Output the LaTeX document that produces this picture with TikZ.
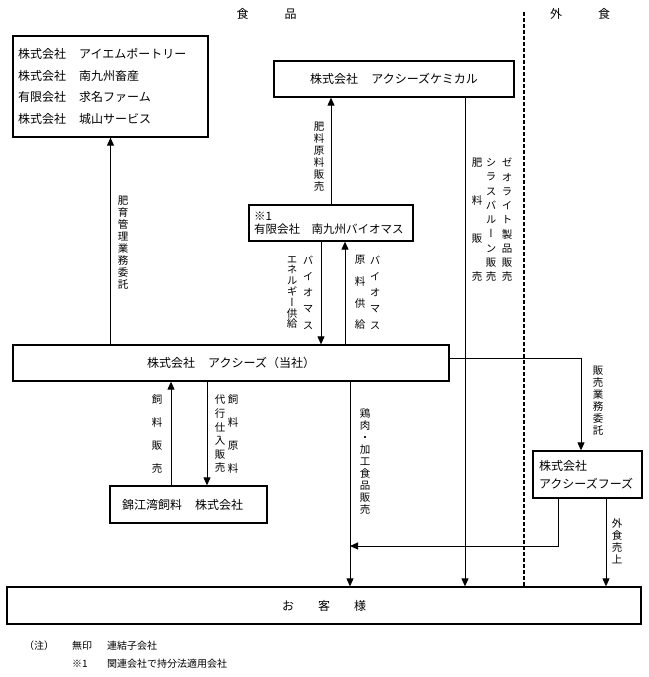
\documentclass[tikz,border=0pt]{standalone}
\usepackage{fontspec}
\setmainfont{Noto Sans CJK JP}
\newfontfamily\tatefont[RawFeature=+vert]{Noto Sans CJK JP}
\usetikzlibrary{arrows.meta}

\tikzset{
  box/.style={draw, line width=1.3pt, inner sep=0pt, font=\fontsize{12}{14}\selectfont},
  tate/.style={align=center, inner sep=0pt, font=\tatefont\fontsize{10.5}{#1}\selectfont},
  tate/.default=12,
  note/.style={inner sep=0pt, font=\fontsize{10}{12}\selectfont},
  arr/.style={line width=1pt, -{Triangle[length=8pt,width=7pt]}},
  border line/.style={line width=1.4pt, dash pattern=on 4pt off 2pt},
}

\begin{document}
\begin{tikzpicture}[x=1pt, y=-1pt]
  \useasboundingbox (0,0) rectangle (648,677);

  % headings
  \node[font=\fontsize{12}{14}\selectfont] (shokuhin) at (266.5,14) {食\hspace{3em}品};
  \node[font=\fontsize{12}{14}\selectfont] (gaishoku) at (580,14) {外\hspace{3em}食};

  % companies
  \node[box, minimum height=101pt, text width=185pt, inner xsep=5pt, align=left,
        font=\fontsize{12}{21.5}\selectfont] (farm) at (110.5,86.5)
    {株式会社\hspace{1.1em}アイエムポートリー\\株式会社\hspace{1.1em}南九州畜産\\有限会社\hspace{1.1em}求名ファーム\\株式会社\hspace{1.1em}城山サービス};
  \node[box, minimum width=240pt, minimum height=36pt] (chem) at (394,79) {株式会社\hspace{1.1em}アクシーズケミカル};
  \node[box, minimum height=36pt, text width=154pt, inner xsep=5pt, align=left,
        font=\fontsize{11.5}{13.5}\selectfont] (bio) at (331,223) {※1\\有限会社\hspace{1em}南九州バイオマス};
  \node[box, minimum width=436pt, minimum height=36pt] (main) at (231,363) {株式会社\hspace{1.1em}アクシーズ（当社）};
  \node[box, minimum height=37pt, text width=133pt, inner xsep=12pt, align=left] (nishi) at (188.5,504.5) {錦江湾飼料\hspace{1.1em}株式会社};
  \node[box, minimum height=47pt, text width=97pt, inner xsep=6pt, align=left,
        font=\fontsize{12}{18}\selectfont] (foods) at (587.5,474.5) {株式会社\\アクシーズフーズ};
  \node[box, minimum width=634pt, minimum height=37pt] (cust) at (324,605.5) {お\hspace{2em}客\hspace{2em}様};

  % flows
  \draw[arr] (farm.south |- main.north) -- (farm.south);
  \draw[arr] (bio.north) -- (bio.north |- chem.south);
  \draw[arr] (bio.south -| 321,0) -- (main.north -| 321,0);
  \draw[arr] (main.north -| 345,0) -- (bio.south -| 345,0);
  \draw[arr] (chem.south -| 465,0) -- (cust.north -| 465,0);
  \draw[arr] (main.east |- 0,358) -| (foods.north -| 581,0);
  \draw[arr] (main.south -| 350,0) -- (cust.north -| 350,0);
  \coordinate (merge) at (350,546);
  \draw[arr] (foods.south -| 558,0) |- (merge);
  \draw[arr] (foods.south -| 606,0) -- (cust.north -| 606,0);
  \draw[arr] (nishi.north -| 171,0) -- (main.south -| 171,0);
  \draw[arr] (main.south -| 207,0) -- (nishi.north -| 207,0);
  \draw[border line] (524,12) -- (cust.north -| 524,0);

  % flow labels
  \node[tate] (ikusei) at (123,242.5) {肥\\育\\管\\理\\業\\務\\委\\託};
  \node[tate] (hiryo) at (319,156.5) {肥\\料\\原\\料\\販\\売};
  \node[tate=10.8] (eneA) at (292,292.5) {エ\\ネ\\ル\\ギ\\ー\\供\\給};
  \node[tate=16.25] (eneB) at (308,292.5) {バ\\イ\\オ\\マ\\ス};
  \node[tate=21.7] (genA) at (360,292.5) {原\\料\\供\\給};
  \node[tate=16.25] (genB) at (375,292.5) {バ\\イ\\オ\\マ\\ス};
  \node[tate=38] (kemiA) at (477,220) {肥\\料\\販\\売};
  \node[tate=14.25] (kemiB) at (491,220) {シ\\ラ\\ス\\バ\\ル\\ー\\ン\\販\\売};
  \node[tate=14.25] (kemiC) at (507,220) {ゼ\\オ\\ラ\\イ\\ト\\製\\品\\販\\売};
  \node[tate] (hanbai) at (598,401) {販\\売\\業\\務\\委\\託};
  \node[tate] (tori) at (365,461.5) {鶏\\肉\\・\\加\\工\\食\\品\\販\\売};
  \node[tate] (gai) at (617,541) {外\\食\\売\\上};
  \node[tate=22.7] (siryoA) at (157,434) {飼\\料\\販\\売};
  \node[tate=13.6] (siryoB) at (220,434) {代\\行\\仕\\入\\販\\売};
  \node[tate=22.7] (siryoC) at (233,434) {飼\\料\\原\\料};

  % notes
  \node[note] (chu) at (39,646) {（注）};
  \node[note, anchor=west] (mujirushi) at (72,646) {無印};
  \node[note, anchor=west] (renketsu) at (107,646) {連結子会社};
  \node[note, anchor=west] (kome) at (72,664) {※1};
  \node[note, anchor=west] (kanren) at (107,664) {関連会社で持分法適用会社};
\end{tikzpicture}
\end{document}
